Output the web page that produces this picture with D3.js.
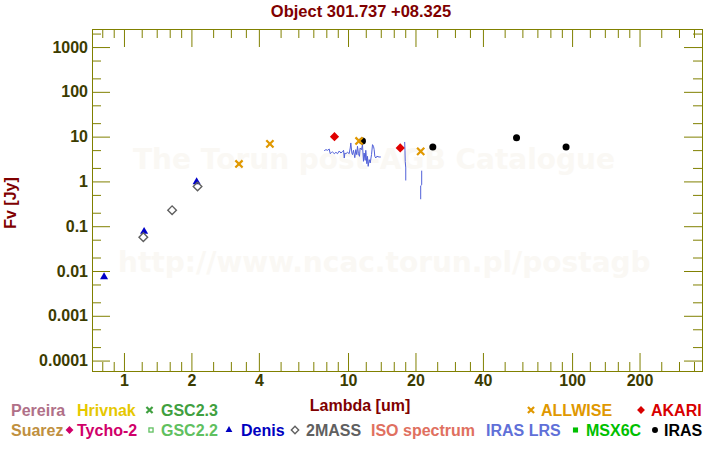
<!DOCTYPE html>
<html><head><meta charset="utf-8">
<script src="https://cdn.jsdelivr.net/npm/d3@7"></script>
<style>
body{margin:0;background:#fff}
svg{display:block}
text{font-family:"Liberation Sans",Arial,sans-serif;font-weight:bold}
</style>
</head><body><svg id="c" width="720" height="450"></svg>
<script>
// ---------- data ----------
const title = "Object 301.737 +08.325";
const xLabel = "Lambda [um]";
const yLabel = "Fv [Jy]";
const watermark1 = "The Torun post-AGB Catalogue";
const watermark2 = "http://www.ncac.torun.pl/postagb";

const xMajorTicks = [1, 2, 4, 10, 20, 40, 100, 200];
const xTickLabels = ["1", "2", "4", "10", "20", "40", "100", "200"];
const xMinorTicks = [0.8, 0.9, 1.2, 1.4, 1.6, 1.8, 2.5, 3, 3.5, 5, 6, 7, 8, 9, 12, 14, 16, 18, 25, 30, 35, 50, 60, 70, 80, 90, 120, 140, 160, 180, 250, 300, 350];
const yMajorTicks = [1000, 100, 10, 1, 0.1, 0.01, 0.001, 0.0001];
const yTickLabels = ["1000", "100", "10", "1", "0.1", "0.01", "0.001", "0.0001"];
const yMinorTicks = [2000, 500, 200, 50, 20, 5, 2, 0.5, 0.2, 0.05, 0.02, 0.005, 0.002, 0.0005, 0.0002];

const denisWl = [0.815, 1.23, 2.11];
const denisFlux = [0.0074, 0.076, 0.97];
const twomassWl = [1.22, 1.64, 2.13];
const twomassFlux = [0.057, 0.228, 0.77];
const allwiseWl = [3.26, 4.48, 11.2, 21.1];
const allwiseFlux = [2.45, 6.9, 8.0, 4.7];
const akariWl = [8.7, 17.1];
const akariFlux = [10, 5.6];
const irasWl = [11.6, 23.9, 56.5, 94];
const irasFlux = [8.0, 5.9, 9.4, 5.9];

// IRAS LRS spectrum (three pieces)
const lrsWl1 = [7.83,7.97,8.11,8.24,8.33,8.45,8.53,8.68,8.83,8.98,9.14,9.29,9.45,9.55,9.62,9.68,9.78,9.95,10.12,10.23,10.29,10.40,10.47,10.58,10.72,10.83,10.94,11.02,11.13,11.25,11.32,11.48,11.60,11.72,11.80,11.93,12.00,12.13,12.21,12.30,12.43,12.56,12.73,12.86,12.99,13.08,13.17,13.30,13.44,13.76,14.0];
const lrsFlux1 = [4.86,5.12,4.95,5.30,4.17,4.46,4.54,4.17,4.46,4.17,4.78,4.31,4.62,4.95,3.33,4.31,4.17,4.46,4.17,5.58,7.22,4.31,3.96,4.95,3.39,5.12,3.96,6.08,4.17,3.63,5.58,5.12,6.62,2.81,4.31,2.95,4.95,2.49,3.63,2.17,3.06,2.58,3.96,6.62,6.08,5.12,3.63,3.33,3.63,3.51,3.51];
const lrsWl2 = [17.9, 17.95, 18.0, 18.1, 18.1];
const lrsFlux2 = [7.6, 5.0, 2.8, 2.0, 1.05];
const lrsWl3 = [21.32, 21.32, 21.1, 21.1];
const lrsFlux3 = [1.74, 0.84, 0.80, 0.40];

const legendNames = ["Pereira","Hrivnak","GSC2.3","ALLWISE","AKARI","Suarez","Tycho-2","GSC2.2","Denis","2MASS","ISO spectrum","IRAS LRS","MSX6C","IRAS"];
const legendColors = ["#b07088","#e6c800","#40a040","#e09800","#d80000","#c09040","#d0006a","#60c060","#0000c0","#606060","#e07060","#6070d8","#00c000","#000000"];
const legendSymbols = [null,null,"cross","cross","diamondFill",null,"diamondFill","square","triangle","diamondOpen",null,null,"squareFill","circle"];

// ---------- layout ----------
const L = 92, R = 702, T = 29, B = 371;
const legendLayout = [ // [textX, row, symbolX]
  [11,0],[77,0],[161,0,149.5],[541,0,531],[651,0,641],
  [11,1],[77,1,69.5],[161,1,151],[241,1,229],[306,1,295],[371,1],[486,1],[586,1,575.5],[664,1,655]
];
const olive = "#808000", tickText = "#3c3c00", dark = "#800000";

const svg = d3.select("#c");
const x = d3.scaleLog().domain([0.72, 380]).range([L, R]);
const y = d3.scaleLog().domain([5.85e-5, 2530]).range([B, T]);

// watermark
svg.append("text").attr("x", 133).attr("y", 169).text(watermark1)
  .style("font-family", "DejaVu Sans").style("font-size", "28px").attr("fill", "#faf8f4");
svg.append("text").attr("x", 118).attr("y", 272).text(watermark2)
  .style("font-family", "DejaVu Sans").style("font-size", "28px").attr("fill", "#faf8f4");

// title
svg.append("text").attr("x", 361).attr("y", 17).attr("text-anchor", "middle")
  .attr("fill", dark).style("font-size", "16.5px").text(title);

// axes
function styleAxis(g) {
  g.select(".domain").remove();
  g.selectAll("line").attr("stroke", olive);
  g.selectAll("text").attr("fill", tickText).style("font-size", "16px")
    .style("font-family", "'Liberation Sans',Arial,sans-serif").style("font-weight", "bold");
}
const fmtX = d => xTickLabels[xMajorTicks.indexOf(d)];
const fmtY = d => yTickLabels[yMajorTicks.indexOf(d)];

svg.append("g").attr("transform", `translate(0,${B})`)
  .call(d3.axisBottom(x).tickValues(xMajorTicks).tickFormat(fmtX).tickSizeInner(-18).tickSizeOuter(0).tickPadding(4))
  .call(styleAxis);
svg.append("g").attr("transform", `translate(0,${B})`)
  .call(d3.axisBottom(x).tickValues(xMinorTicks).tickFormat("").tickSizeInner(-9).tickSizeOuter(0))
  .call(styleAxis);
svg.append("g").attr("transform", `translate(0,${T})`)
  .call(d3.axisTop(x).tickValues(xMajorTicks).tickFormat("").tickSizeInner(-18).tickSizeOuter(0))
  .call(styleAxis);
svg.append("g").attr("transform", `translate(0,${T})`)
  .call(d3.axisTop(x).tickValues(xMinorTicks).tickFormat("").tickSizeInner(-9).tickSizeOuter(0))
  .call(styleAxis);
svg.append("g").attr("transform", `translate(${L},0)`)
  .call(d3.axisLeft(y).tickValues(yMajorTicks).tickFormat(fmtY).tickSizeInner(-18).tickSizeOuter(0).tickPadding(4))
  .call(styleAxis);
svg.append("g").attr("transform", `translate(${L},0)`)
  .call(d3.axisLeft(y).tickValues(yMinorTicks).tickFormat("").tickSizeInner(-9).tickSizeOuter(0))
  .call(styleAxis);
svg.append("g").attr("transform", `translate(${R},0)`)
  .call(d3.axisRight(y).tickValues(yMajorTicks).tickFormat("").tickSizeInner(-18).tickSizeOuter(0))
  .call(styleAxis);
svg.append("g").attr("transform", `translate(${R},0)`)
  .call(d3.axisRight(y).tickValues(yMinorTicks).tickFormat("").tickSizeInner(-9).tickSizeOuter(0))
  .call(styleAxis);

svg.append("rect").attr("x", L + 0.5).attr("y", T + 0.5).attr("width", R - L).attr("height", B - T)
  .attr("fill", "none").attr("stroke", olive);

// axis titles
svg.append("text").attr("x", 360).attr("y", 411).attr("text-anchor", "middle")
  .attr("fill", dark).style("font-size", "16px").text(xLabel);
svg.append("text").attr("transform", "translate(16,203) rotate(-90)").attr("text-anchor", "middle")
  .attr("fill", dark).style("font-size", "16px").text(yLabel);

// symbols
function sym(g, type, color, s) {
  s = s || 1;
  if (type === "cross") {
    const a = 3.6 * s;
    g.append("path").attr("d", `M${-a},${-a}L${a},${a}M${-a},${a}L${a},${-a}`)
      .attr("stroke", color).attr("stroke-width", 2.2).attr("fill", "none");
  } else if (type === "diamondFill") {
    const a = 4.6 * s;
    g.append("path").attr("d", `M0,${-a}L${a},0L0,${a}L${-a},0Z`).attr("fill", color);
  } else if (type === "diamondOpen") {
    const a = 4.3 * s;
    g.append("path").attr("d", `M0,${-a}L${a},0L0,${a}L${-a},0Z`)
      .attr("fill", "none").attr("stroke", color).attr("stroke-width", 1.4);
  } else if (type === "triangle") {
    g.append("path").attr("d", d3.symbol(d3.symbolTriangle, 28 * s * s)()).attr("fill", color);
  } else if (type === "circle") {
    g.append("circle").attr("r", 3.5 * s).attr("fill", color);
  } else if (type === "square") {
    const a = 2.4 * s;
    g.append("rect").attr("x", -a).attr("y", -a).attr("width", 2 * a).attr("height", 2 * a)
      .attr("fill", "none").attr("stroke", color).attr("stroke-width", 1.3);
  } else if (type === "squareFill") {
    const a = 3 * s;
    g.append("rect").attr("x", -a).attr("y", -a).attr("width", 2 * a).attr("height", 2 * a).attr("fill", color);
  }
}

// spectrum
const line = d3.line().x(d => x(d[0])).y(d => y(d[1]));
[[lrsWl1, lrsFlux1], [lrsWl2, lrsFlux2], [lrsWl3, lrsFlux3]].forEach(([w, f]) => {
  svg.append("path").datum(w.map((v, i) => [v, f[i]])).attr("d", line)
    .attr("fill", "none").attr("stroke", "#5060d8").attr("stroke-width", 1);
});

function plotSeries(wl, fl, type, color, s) {
  wl.forEach((w, i) => {
    const g = svg.append("g").attr("transform", `translate(${x(w)},${y(fl[i])})`);
    sym(g, type, color, s);
  });
}
plotSeries(denisWl, denisFlux, "triangle", "#0000c8");
plotSeries(twomassWl, twomassFlux, "diamondOpen", "#606060");
plotSeries(irasWl, irasFlux, "circle", "#000000");
plotSeries(allwiseWl, allwiseFlux, "cross", "#e09800");
plotSeries(akariWl, akariFlux, "diamondFill", "#e00000");

// legend
legendNames.forEach((n, i) => {
  const [tx, row, sx] = legendLayout[i];
  const by = row === 0 ? 416 : 436;
  svg.append("text").attr("x", tx).attr("y", by).attr("fill", legendColors[i])
    .style("font-size", "16px").text(n);
  if (legendSymbols[i]) {
    const g = svg.append("g").attr("transform", `translate(${sx},${by - 6})`);
    sym(g, legendSymbols[i], legendColors[i], 0.85);
  }
});
</script></body></html>
